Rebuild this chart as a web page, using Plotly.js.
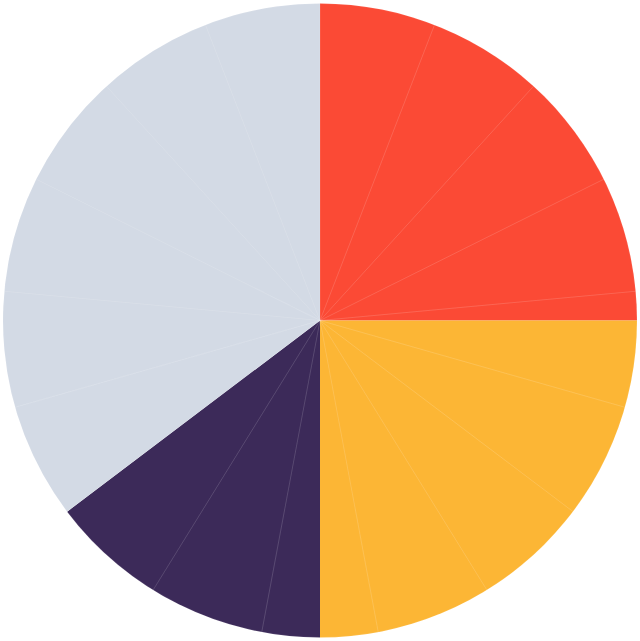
<!DOCTYPE html>
<html>
<head>
<meta charset="utf-8">
<script src="https://cdn.plot.ly/plotly-3.0.1.min.js"></script>
<style>html,body{margin:0;padding:0;background:#fff;}#chart{width:640px;height:641px;}</style>
</head>
<body>
<div id="chart"></div>
<script>
// Group shares (percent of the circle), clockwise from 12 o'clock
const groupLabels = ["Group A", "Group B", "Group C", "Group D"];
const groupValues = [25, 25, 14.7, 35.3];
const groupColors = ["#FB4A35", "#FCB635", "#3C2A59", "#D3DAE5"];

// Equal segments overlaid as faint divider lines
const segmentLabels = ["1","2","3","4","5","6","7","8","9","10","11","12","13","14","15","16","17"];
const segmentValues = [1,1,1,1,1,1,1,1,1,1,1,1,1,1,1,1,1];

const base = {
  type: "pie",
  labels: groupLabels,
  values: groupValues,
  marker: { colors: groupColors, line: { width: 0 } },
  sort: false,
  direction: "clockwise",
  rotation: 0,
  textinfo: "none",
  hoverinfo: "label+percent",
  showlegend: false
};

const overlay = {
  type: "pie",
  labels: segmentLabels,
  values: segmentValues,
  marker: {
    colors: segmentValues.map(() => "rgba(0,0,0,0)"),
    line: { color: "rgba(255,255,255,0.08)", width: 1 }
  },
  sort: false,
  direction: "clockwise",
  rotation: 0,
  textinfo: "none",
  hoverinfo: "skip",
  showlegend: false
};

Plotly.newPlot("chart", [base, overlay], {
  width: 640,
  height: 641,
  margin: { l: 3, r: 3, t: 3, b: 3, pad: 0 },
  paper_bgcolor: "#ffffff",
  showlegend: false
}, { displayModeBar: false, staticPlot: true });
</script>
</body>
</html>
